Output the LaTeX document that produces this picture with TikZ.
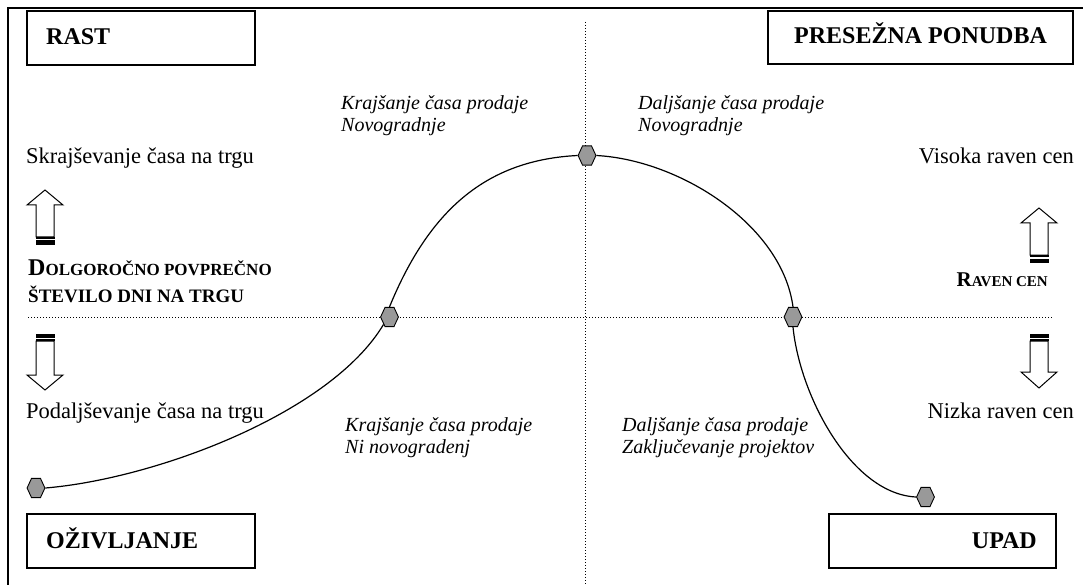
\documentclass[tikz,border=0pt]{standalone}
\usepackage{fontspec}
\setmainfont{Liberation Serif}
\usetikzlibrary{shapes.geometric}
\definecolor{hexgray}{gray}{0.6}
\newcommand{\blockup}[6]{% cx, tip, headbase, shaftend, bar2top, bottom
\begin{scope}[shift={(#1,0)}]
\draw[blockarrow] (0,#2) -- (18,#3) -- (9,#3) -- (9,#4) -- (-9,#4) -- (-9,#3) -- (-18,#3) -- cycle;
\fill (-9.5,#4) rectangle (9.5,#4+1.6);
\fill (-9.5,#5) rectangle (9.5,#6);
\end{scope}}
\newcommand{\blockdown}[6]{% cx, top, bar1bottom, shafttop, headbase, tip
\begin{scope}[shift={(#1,0)}]
\fill (-9.5,#2) rectangle (9.5,#3);
\fill (-9.5,#4-1.6) rectangle (9.5,#4);
\draw[blockarrow] (0,#6) -- (18,#5) -- (9,#5) -- (9,#4) -- (-9,#4) -- (-9,#5) -- (-18,#5) -- cycle;
\end{scope}}
\begin{document}
\begin{tikzpicture}[x=1pt,y=-1pt,
  titlebox/.style={draw, line width=1.1pt, inner sep=0pt},
  title/.style={font=\fontsize{24}{28}\selectfont\bfseries, inner sep=0pt},
  plain/.style={font=\fontsize{22.5}{27}\selectfont, inner sep=0pt},
  note/.style={font=\fontsize{20}{22}\selectfont\itshape, inner sep=0pt},
  hex/.style={regular polygon, regular polygon sides=6, minimum size=21pt, inner sep=0pt, draw, fill=hexgray, line width=0.9pt, xscale=0.85, yscale=1.06, transform shape},
  guide/.style={line width=0.9pt, dash pattern=on 1pt off 2pt},
  curve/.style={line width=1.2pt},
  blockarrow/.style={draw, fill=white, line width=1pt}
]
\useasboundingbox (0,0) rectangle (1083,585);
\fill[white] (0,0) rectangle (1083,585);
% outer frame
\draw[line width=1.5pt] (8,585) -- (8,8) -- (1083,8);
% guide lines
\draw[guide] (585.5,22) -- (585.5,585);
\draw[guide] (28,317) -- (1053,317);
% title boxes
\draw[titlebox] (27,11) rectangle (255,65);
\node[title, anchor=base west] (rast) at (46,45) {RAST};
\draw[titlebox] (768,11) rectangle (1073,64);
\node[title, anchor=base] (pres) at (920.5,44) {PRESEŽNA PONUDBA};
\draw[titlebox] (27,514) rectangle (255,568);
\node[title, anchor=base west] (oziv) at (46,548) {OŽIVLJANJE};
\draw[titlebox] (829,514) rectangle (1056,568);
\node[title, anchor=base east] (upad) at (1037,548) {UPAD};
% side texts
\node[plain, anchor=base west] (skraj) at (26,164) {Skrajševanje časa na trgu};
\node[plain, anchor=base west] (podalj) at (26,418) {Podaljševanje časa na trgu};
\node[plain, anchor=base east] (visoka) at (1074,164) {Visoka raven cen};
\node[plain, anchor=base east] (nizka) at (1074,418) {Nizka raven cen};
\node[anchor=base west, inner sep=0pt] (dolg) at (28,275) {\bfseries\fontsize{24}{28}\selectfont D\fontsize{17}{20}\selectfont OLGOROČNO POVPREČNO};
\node[anchor=base west, inner sep=0pt] (stev) at (28,302) {\bfseries\fontsize{19}{22}\selectfont ŠTEVILO DNI NA TRGU};
\node[anchor=base east, inner sep=0pt] (raven) at (1048,286) {\bfseries\fontsize{21}{26}\selectfont R\fontsize{15}{18}\selectfont AVEN CEN};
% block arrows
\blockup{45}{190}{205}{237}{240.5}{245}
\blockdown{45}{334}{337.5}{341}{375}{390}
\blockup{1039}{208}{223}{255}{258.5}{263}
\blockdown{1039}{334}{337.5}{341}{372}{388}
% italic notes
\node[note, anchor=base west] (kr1) at (341,110) {Krajšanje časa prodaje};
\node[note, anchor=base west] (kr2) at (341,132) {Novogradnje};
\node[note, anchor=base west] (dl1) at (638,110) {Daljšanje časa prodaje};
\node[note, anchor=base west] (dl2) at (638,132) {Novogradnje};
\node[note, anchor=base west] (kr3) at (345,431) {Krajšanje časa prodaje};
\node[note, anchor=base west] (kr4) at (345,453) {Ni novogradenj};
\node[note, anchor=base west] (dl3) at (622,431) {Daljšanje časa prodaje};
\node[note, anchor=base west] (dl4) at (622,453) {Zaključevanje projektov};
% hexagons
\node[hex] (h1) at (36,488) {};
\node[hex] (h2) at (389.5,317) {};
\node[hex] (h3) at (587,155.5) {};
\node[hex] (h4) at (793,317) {};
\node[hex] (h5) at (925.5,497) {};
% curve
\draw[curve] (h1.east) .. controls (154,479) and (330,414) .. (h2.south west);
\draw[curve] (h2.north) .. controls (430,208) and (488,160) .. (h3.west);
\draw[curve] (h3.east) .. controls (680,160) and (782,225) .. (h4.north);
\draw[curve] (h4.south) .. controls (800,397) and (852,494) .. (h5.west);
\end{tikzpicture}
\end{document}
